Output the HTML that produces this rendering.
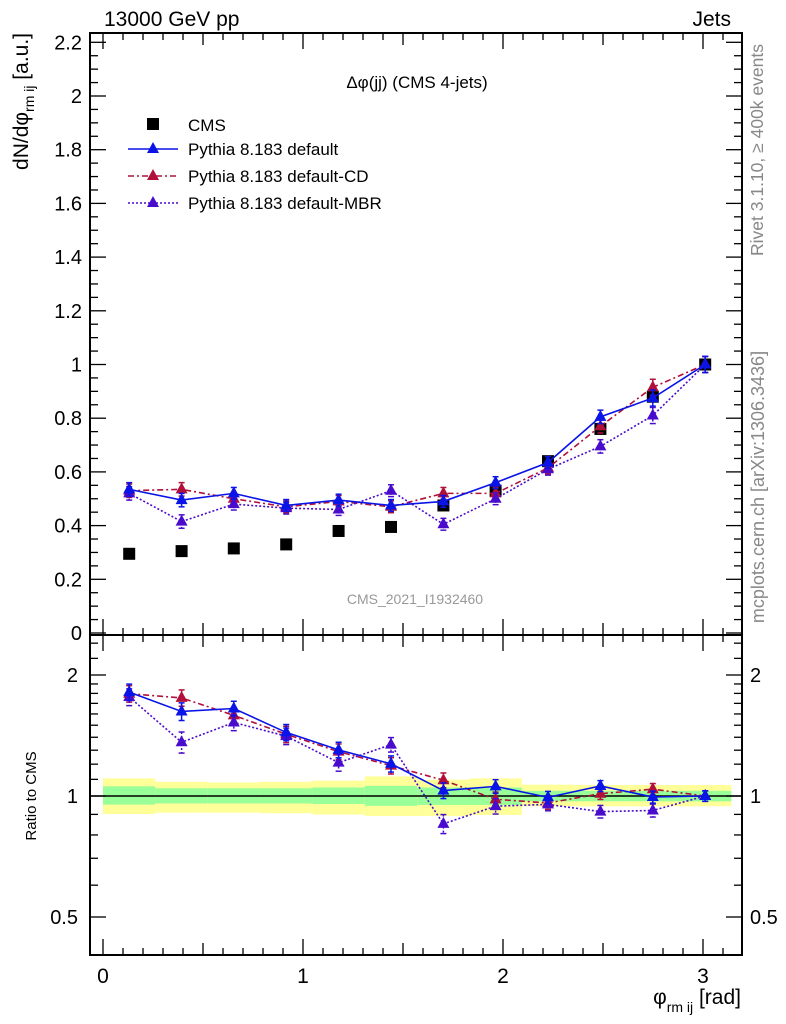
<!DOCTYPE html>
<html><head><meta charset="utf-8"><style>
body{margin:0;background:#fff;}
svg{display:block;font-family:"Liberation Sans",sans-serif;}
</style></head><body>
<svg id="c" width="786" height="1024" xmlns="http://www.w3.org/2000/svg"></svg>
<script>
const categories=[0.131,0.393,0.654,0.916,1.178,1.440,1.702,1.963,2.225,2.487,2.749,3.011];
const binEdges=[0,0.2618,0.5236,0.7854,1.0472,1.309,1.5708,1.8326,2.0944,2.3562,2.618,2.8798,3.1416];
const cmsVals=[0.295,0.305,0.315,0.33,0.38,0.395,0.475,0.53,0.64,0.76,0.88,1.0];
const defVals=[0.535,0.495,0.52,0.475,0.495,0.475,0.49,0.56,0.635,0.805,0.875,1.0];
const cdVals=[0.53,0.535,0.5,0.47,0.49,0.47,0.52,0.52,0.615,0.77,0.915,1.0];
const mbrVals=[0.52,0.415,0.48,0.465,0.46,0.53,0.405,0.5,0.61,0.695,0.81,1.0];
const mcErr=[0.025,0.025,0.022,0.022,0.022,0.022,0.022,0.022,0.022,0.025,0.03,0.03];
const yellowUp=[1.106,1.085,1.081,1.085,1.092,1.119,1.098,1.106,1.067,1.065,1.065,1.065];
const yellowDn=[0.902,0.909,0.909,0.906,0.899,0.892,0.892,0.897,0.943,0.943,0.943,0.943];
const greenUp=[1.057,1.045,1.045,1.045,1.05,1.06,1.05,1.05,1.03,1.03,1.03,1.03];
const greenDn=[0.952,0.958,0.958,0.958,0.955,0.945,0.95,0.95,0.97,0.97,0.97,0.97];
const mainTicks=[0,0.2,0.4,0.6,0.8,1,1.2,1.4,1.6,1.8,2,2.2];
const mainTickLabels=["0","0.2","0.4","0.6","0.8","1","1.2","1.4","1.6","1.8","2","2.2"];
const ratioTicks=[0.5,1,2];
const ratioTickLabels=["0.5","1","2"];
const xTicks=[0,1,2,3];

const svg=document.getElementById('c');
const NS='http://www.w3.org/2000/svg';
const L=90,R=742,T=33,MB=635,RB=955;
const X=v=>103+v*200;
const Y=v=>633-v*268.5;
const YR=v=>796-Math.log2(v)*121;
function el(tag,attrs,parent){const e=document.createElementNS(NS,tag);for(const k in attrs)e.setAttribute(k,attrs[k]);(parent||svg).appendChild(e);return e;}
function txt(s,attrs,parent){const e=el('text',attrs,parent);e.textContent=s;return e;}

const bands=el('g',{});


for(let i=0;i<binEdges.length-1;i++){
  const x0=X(binEdges[i]),x1=X(binEdges[i+1]);
  el('rect',{x:x0,y:YR(yellowUp[i]),width:x1-x0,height:YR(yellowDn[i])-YR(yellowUp[i]),fill:'#ffff99'},bands);
  el('rect',{x:x0,y:YR(greenUp[i]),width:x1-x0,height:YR(greenDn[i])-YR(greenUp[i]),fill:'#99ff99'},bands);
}
el('line',{x1:L,x2:R,y1:YR(1),y2:YR(1),stroke:'#000','stroke-width':1.5});

const f1=el('rect',{x:L,y:T,width:R-L,height:MB-T,fill:'none',stroke:'#000','stroke-width':2});

const f2=el('rect',{x:L,y:MB,width:R-L,height:RB-MB,fill:'none',stroke:'#000','stroke-width':2});


for(let k=0;k<=31;k++){const v=k/10;const x=X(v);const maj=(k%10===0);const len=maj?16:(k%5===0?12:7);
  el('line',{x1:x,x2:x,y1:MB,y2:MB-len,stroke:'#000','stroke-width':1.3});
  el('line',{x1:x,x2:x,y1:T,y2:T+len,stroke:'#000','stroke-width':1.3});
  el('line',{x1:x,x2:x,y1:RB,y2:RB-len,stroke:'#000','stroke-width':1.3});
  el('line',{x1:x,x2:x,y1:MB,y2:MB+len,stroke:'#000','stroke-width':1.3});}
xTicks.forEach(v=>{const t=txt(String(v),{x:X(v),y:983,'font-size':21,'text-anchor':'middle'});
  });

for(let k=0;k<=44;k++){const v=k*0.05;const y=Y(v);if(y<T)continue;const maj=(k%4===0);const len=maj?16:8;
  el('line',{x1:L,x2:L+len,y1:y,y2:y,stroke:'#000','stroke-width':1.3});
  el('line',{x1:R,x2:R-len,y1:y,y2:y,stroke:'#000','stroke-width':1.3});}
mainTicks.forEach((v,i)=>{const t=txt(mainTickLabels[i],{x:82,y:Y(v)+7,'font-size':20,'text-anchor':'end'});
  });
const rmin=[0.4,0.5,0.6,0.7,0.8,0.9,1,1.1,1.2,1.3,1.4,1.5,1.6,1.7,1.8,1.9,2,2.2,2.4];
rmin.forEach(v=>{const y=YR(v);const maj=(v===0.5||v===1||v===2);const len=maj?16:8;if(y<MB||y>RB)return;
  el('line',{x1:L,x2:L+len,y1:y,y2:y,stroke:'#000','stroke-width':1.3});
  el('line',{x1:R,x2:R-len,y1:y,y2:y,stroke:'#000','stroke-width':1.3});});
ratioTicks.forEach((v,i)=>{
  const t=txt(ratioTickLabels[i],{x:78,y:YR(v)+7,'font-size':20,'text-anchor':'end'});
  
  const t2=txt(ratioTickLabels[i],{x:750,y:YR(v)+7,'font-size':20});
  });

function series(vals,color,dash,name,ratio){
  const g=el('g',{});
  
  
  const yf=ratio?YR:Y;
  const pts=categories.map((c,i)=>{const v=ratio?vals[i]/cmsVals[i]:vals[i];return [X(c),yf(v),v];});
  el('polyline',{points:pts.map(p=>p[0]+','+p[1]).join(' '),fill:'none',stroke:color,'stroke-width':1.6,'stroke-dasharray':dash},g);
  pts.forEach((p,i)=>{const e=ratio?mcErr[i]/cmsVals[i]:mcErr[i];const y1=yf(p[2]+e),y2=yf(Math.max(p[2]-e,0.01));
    el('line',{x1:p[0],x2:p[0],y1:y1,y2:y2,stroke:color,'stroke-width':1.5,'stroke-dasharray':dash},g);
    el('line',{x1:p[0]-3,x2:p[0]+3,y1:y1,y2:y1,stroke:color,'stroke-width':1.5},g);
    el('line',{x1:p[0]-3,x2:p[0]+3,y1:y2,y2:y2,stroke:color,'stroke-width':1.5},g);
    el('polygon',{points:`${p[0]},${p[1]-7} ${p[0]-6},${p[1]+4} ${p[0]+6},${p[1]+4}`,fill:color},g);});
}
const cg=el('g',{});


categories.forEach((c,i)=>{el('rect',{x:X(c)-6,y:Y(cmsVals[i])-6,width:12,height:12,fill:'#000'},cg);});
series(cdVals,'#b0103a','6,3,2,3','pythia-default-cd-series',false);
series(mbrVals,'#4a0ccc','2,2','pythia-default-mbr-series',false);
series(defVals,'#0a14e6','','pythia-default-series',false);
series(cdVals,'#b0103a','6,3,2,3','ratio-default-cd-series',true);
series(mbrVals,'#4a0ccc','2,2','ratio-default-mbr-series',true);
series(defVals,'#0a14e6','','ratio-default-series',true);

const lg=el('g',{});


el('rect',{x:147,y:118,width:12,height:12,fill:'#000'},lg);
txt('CMS',{x:188,y:131,'font-size':17},lg);
const ls=[['Pythia 8.183 default','#0a14e6','',149],['Pythia 8.183 default-CD','#b0103a','6,3,2,3',176],['Pythia 8.183 default-MBR','#4a0ccc','2,2',203]];
ls.forEach(r=>{el('line',{x1:128,x2:178,y1:r[3],y2:r[3],stroke:r[1],'stroke-width':1.6,'stroke-dasharray':r[2]},lg);
  el('polygon',{points:`153,${r[3]-7} 147,${r[3]+4} 159,${r[3]+4}`,fill:r[1]},lg);
  txt(r[0],{x:188,y:r[3]+6,'font-size':17},lg);});

const a=txt('13000 GeV pp',{x:104,y:26,'font-size':21});
const b=txt('Jets',{x:731,y:26,'font-size':21,'text-anchor':'end'});
const c=txt('Δφ(jj) (CMS 4-jets)',{x:417,y:88,'font-size':17,'text-anchor':'middle'});
const d=txt('CMS_2021_I1932460',{x:415,y:604,'font-size':14,'text-anchor':'middle',fill:'#999'});
const e=txt('Rivet 3.1.10, ≥ 400k events',{x:0,y:0,'font-size':17.5,fill:'#888','text-anchor':'middle',transform:'translate(763,150) rotate(-90)'});
const f=txt('mcplots.cern.ch [arXiv:1306.3436]',{x:0,y:0,'font-size':18,fill:'#888','text-anchor':'middle',transform:'translate(764,487) rotate(-90)'});
const g=el('text',{x:0,y:0,'font-size':21,'text-anchor':'end',transform:'translate(28,33) rotate(-90)'});
g.innerHTML='dN/dφ<tspan font-size="14" dy="6">rm ij</tspan><tspan dy="-6"> [a.u.]</tspan>';

const h=txt('Ratio to CMS',{x:0,y:0,'font-size':15,'text-anchor':'middle',transform:'translate(36,796) rotate(-90)'});
const k=el('text',{x:741,y:1004,'font-size':21,'text-anchor':'end'});
k.innerHTML='φ<tspan font-size="14" dy="8">rm ij</tspan><tspan dy="-8"> [rad]</tspan>';

</script>
</body></html>
